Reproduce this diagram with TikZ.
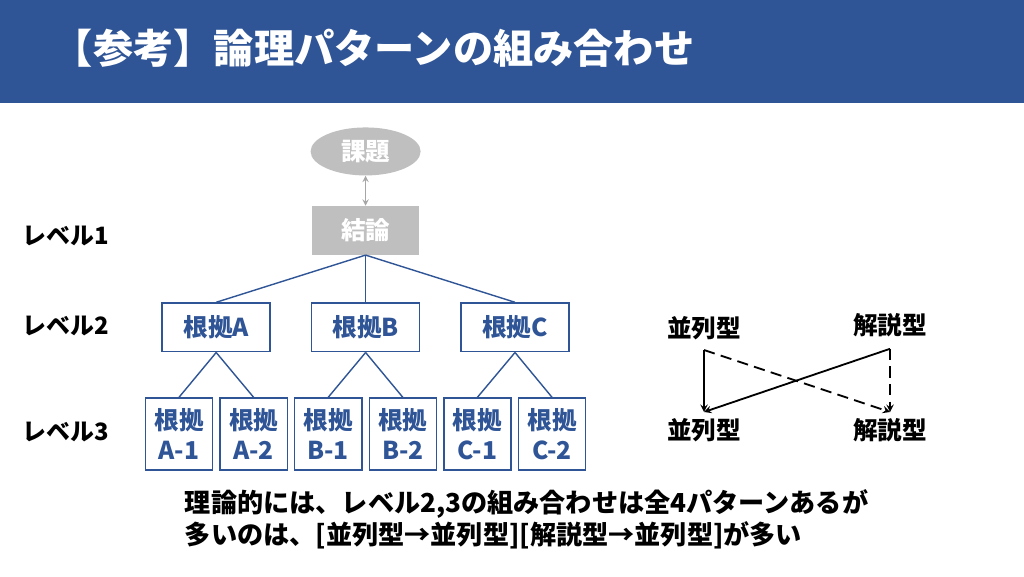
\documentclass[tikz,border=0pt]{standalone}
\usepackage{fontspec}
\setmainfont{Noto Sans CJK JP}
\usetikzlibrary{positioning,shapes,backgrounds}
\definecolor{hdblue}{HTML}{2F5597}
\definecolor{boxgray}{HTML}{BFBFBF}
\definecolor{linkgray}{HTML}{A6A6A6}
\begin{document}
\begin{tikzpicture}[node distance=1cm]
    \tikzset{
        lvbox/.style = {rectangle, draw=hdblue, line width=1pt, fill=white, text=hdblue, minimum width=2.7cm,
                        minimum height=1.22cm, inner sep=1pt, font=\fontsize{17.5}{21}\selectfont\bfseries},
        subbox/.style = {lvbox, minimum width=1.68cm, minimum height=1.8cm, align=center},
        graybox/.style = {fill=boxgray, text=white, inner sep=1pt, font=\fontsize{17.5}{21}\selectfont\bfseries},
        lvlabel/.style = {anchor=west, font=\fontsize{17}{21}\selectfont\bfseries},
        typelabel/.style = {font=\fontsize{17.5}{21}\selectfont\bfseries},
        tree/.style = {draw=hdblue, line width=1pt},
        graylink/.style = {draw=linkgray, line width=1pt, <->, >=stealth},
        arrow/.style = {line width=1.3pt, ->, >=stealth},
        dasharrow/.style = {arrow, dash pattern=on 8pt off 4.5pt},
    }
    \fill [white] (0,0) rectangle (25.6,-14.4);
    \useasboundingbox (0,0) rectangle (25.6,-14.4);

    % header
    \fill [hdblue] (0,0) rectangle (25.6,-2.58);
    \node (title) [anchor=west, text=white, font=\fontsize{28.6}{31}\selectfont\bfseries] at (1.2,-1.2) {【参考】論理パターンの組み合わせ};

    % tree
    \node (concl) [rectangle, graybox, minimum width=2.68cm, minimum height=1.22cm] at (9.14,-5.76) {結論};
    \node (issue) [ellipse, graybox, minimum width=2.75cm, minimum height=1.2cm, above=0.75cm of concl] {課題};
    \draw [graylink] (issue) -- (concl);

    \node (gb) [lvbox, below=1.18cm of concl] {根拠B};
    \node (ga) [lvbox, left=of gb] {根拠A};
    \node (gc) [lvbox, right=of gb] {根拠C};
    \draw [tree] (concl.south) -- (ga.north);
    \draw [tree] (concl.south) -- (gb.north);
    \draw [tree] (concl.south) -- (gc.north);

    \node (ga1) [subbox] at (4.475,-10.85) {根拠\\A-1};
    \node (ga2) [subbox, right=0.15cm of ga1] {根拠\\A-2};
    \node (gb1) [subbox, right=0.15cm of ga2] {根拠\\B-1};
    \node (gb2) [subbox, right=0.15cm of gb1] {根拠\\B-2};
    \node (gc1) [subbox, right=0.15cm of gb2] {根拠\\C-1};
    \node (gc2) [subbox, right=0.15cm of gc1] {根拠\\C-2};
    \draw [tree] (ga.south) -- (ga1.north);
    \draw [tree] (ga.south) -- (ga2.north);
    \draw [tree] (gb.south) -- (gb1.north);
    \draw [tree] (gb.south) -- (gb2.north);
    \draw [tree] (gc.south) -- (gc1.north);
    \draw [tree] (gc.south) -- (gc2.north);

    % levels
    \node (lv1) [lvlabel] at (0.45,-5.9) {レベル1};
    \node (lv2) [lvlabel] at (0.45,-8.15) {レベル2};
    \node (lv3) [lvlabel] at (0.45,-10.8) {レベル3};

    % patterns
    \node (para1) [typelabel] at (17.6,-8.2) {並列型};
    \node (expl1) [typelabel] at (22.25,-8.12) {解説型};
    \node (para2) [typelabel] at (17.6,-10.75) {並列型};
    \node (expl2) [typelabel] at (22.25,-10.75) {解説型};
    \coordinate (p1) at ([yshift=-0.55cm]para1.center);
    \coordinate (k1) at ([yshift=-0.6cm]expl1.center);
    \coordinate (p2) at ([yshift=0.45cm]para2.center);
    \coordinate (k2) at ([yshift=0.45cm]expl2.center);
    \draw [arrow] (p1) -- (p2);
    \draw [arrow] (k1) -- (p2);
    \draw [dasharrow] (p1) -- (k2);
    \draw [dasharrow] (k1) -- (k2);

    % note
    \node (note) [anchor=west, align=left, font=\fontsize{18.6}{22.7}\selectfont\bfseries] at (4.5,-12.98)
        {理論的には、レベル2,3の組み合わせは全4パターンあるが\\多いのは、[並列型→並列型][解説型→並列型]が多い};
\end{tikzpicture}
\end{document}
